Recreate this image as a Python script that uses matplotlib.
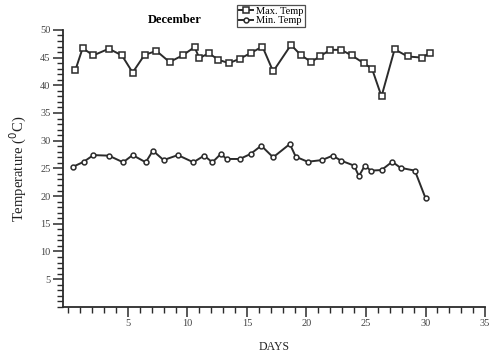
import matplotlib
matplotlib.use('Agg')
import matplotlib.pyplot as plt
from matplotlib.ticker import MultipleLocator

# days (spacing is uneven in the original)
max_days = [0.6, 1.2, 2.1, 3.4, 4.5, 5.4, 6.4, 7.4, 8.5, 9.6, 10.6, 11.0, 11.8,
            12.6, 13.5, 14.4, 15.3, 16.3, 17.2, 18.7, 19.5, 20.4, 21.1, 22.0,
            22.9, 23.8, 24.8, 25.5, 26.3, 27.4, 28.5, 29.7, 30.4]
max_temp = [42.8, 46.7, 45.4, 46.6, 45.4, 42.3, 45.5, 46.2, 44.2, 45.4, 46.9,
            44.9, 45.8, 44.6, 44.0, 44.8, 45.8, 47.0, 42.5, 47.3, 45.5, 44.2,
            45.2, 46.4, 46.4, 45.4, 44.0, 43.0, 38.0, 46.5, 45.2, 45.0, 45.9]

min_days = [0.4, 1.3, 2.1, 3.4, 4.6, 5.4, 6.5, 7.1, 8.0, 9.2, 10.5, 11.4, 12.1,
            12.8, 13.3, 14.4, 15.3, 16.2, 17.2, 18.6, 19.1, 20.1, 21.3, 22.2,
            22.9, 24.0, 24.4, 24.9, 25.4, 26.3, 27.2, 27.9, 29.1, 30.0]
min_temp = [25.3, 26.2, 27.4, 27.3, 26.1, 27.4, 26.1, 28.2, 26.5, 27.4, 26.1,
            27.3, 26.1, 27.6, 26.7, 26.7, 27.6, 29.1, 27.0, 29.4, 27.1, 26.2,
            26.5, 27.3, 26.4, 25.5, 23.6, 25.5, 24.6, 24.7, 26.2, 25.1, 24.6,
            19.6]

serif = 'Liberation Serif'
line_c = '#2b2b2b'

fig = plt.figure(figsize=(4.92, 3.56), dpi=100)
ax = fig.add_axes([0.128, 0.138, 0.858, 0.778])

ax.plot(max_days, max_temp, color=line_c, lw=1.4, marker='s', ms=4.5,
        mfc='white', mec=line_c, mew=1.1, label='Max. Temp')
ax.plot(min_days, min_temp, color=line_c, lw=1.4, marker='o', ms=3.5,
        mfc='white', mec=line_c, mew=1.1, label='Min. Temp')

ax.set_xlim(-0.45, 35)
ax.set_ylim(0, 50)
ax.spines['top'].set_visible(False)
ax.spines['right'].set_visible(False)
for s in ['left', 'bottom']:
    ax.spines[s].set_linewidth(1.3)
    ax.spines[s].set_color(line_c)

ax.xaxis.set_minor_locator(MultipleLocator(1))
ax.yaxis.set_minor_locator(MultipleLocator(1))
ax.set_xticks([5, 10, 15, 20, 25, 30, 35])
ax.set_yticks([5, 10, 15, 20, 25, 30, 35, 40, 45, 50])
ax.tick_params(which='major', length=7, width=1.1, color=line_c, direction='out', pad=2)
ax.tick_params(which='minor', length=4, width=1.0, color=line_c, direction='out')
for lab in ax.get_xticklabels() + ax.get_yticklabels():
    lab.set_fontfamily(serif)
    lab.set_fontsize(7.5)
    lab.set_color('#444444')

ax.set_xlabel('DAYS', fontfamily=serif, fontsize=8.5, color='#222222', labelpad=9)
ax.set_ylabel(r'Temperature ($^0$C)', fontfamily=serif, fontsize=10.5,
              color='#222222', labelpad=8)

ax.text(0.265, 1.036, 'December', transform=ax.transAxes, ha='center',
        va='center', fontfamily=serif, fontsize=9, fontweight='bold')

leg = ax.legend(loc='center', bbox_to_anchor=(0.551, 0.955),
                bbox_transform=fig.transFigure, prop={'family': serif, 'size': 7.5},
                frameon=True, fancybox=False, handlelength=1.3, handletextpad=0.3,
                borderpad=0.2, labelspacing=0.0, borderaxespad=0)
leg.get_frame().set_edgecolor('#222222')
leg.get_frame().set_linewidth(0.9)

fig.savefig('out.png', dpi=100)
